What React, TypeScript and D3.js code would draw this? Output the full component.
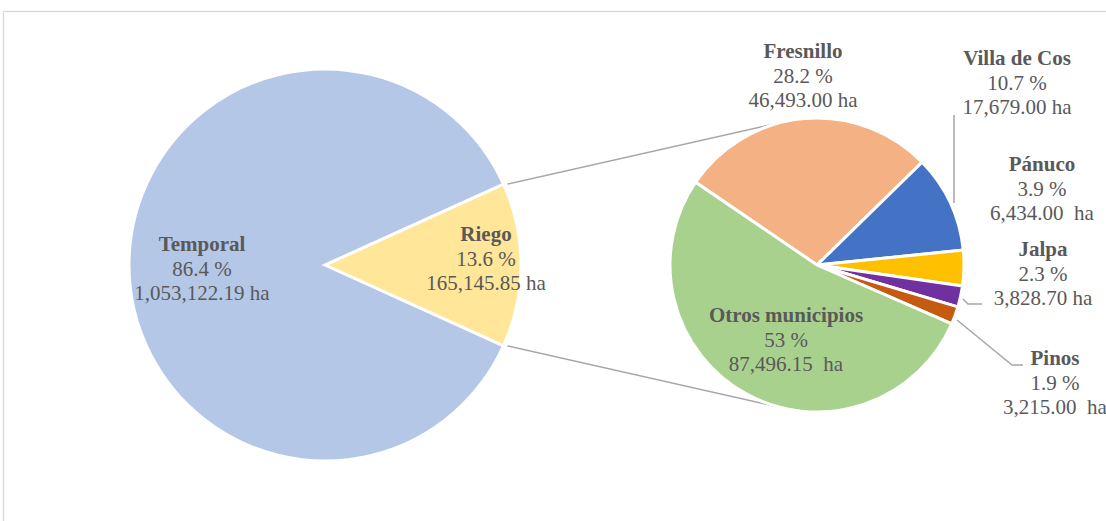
import React from "react";
import * as d3 from "d3";

// ---- Data ----
const mainCategories = ["Riego", "Temporal"];
const mainValues = [165145.85, 1053122.19];
const mainPctLabels = ["13.6 %", "86.4 %"];
const mainValueLabels = ["165,145.85 ha", "1,053,122.19 ha"];

const subCategories = ["Fresnillo", "Villa de Cos", "Pánuco", "Jalpa", "Pinos", "Otros municipios"];
const subValues = [46493.0, 17679.0, 6434.0, 3828.7, 3215.0, 87496.15];
const subPctLabels = ["28.2 %", "10.7 %", "3.9 %", "2.3 %", "1.9 %", "53 %"];
const subValueLabels = ["46,493.00 ha", "17,679.00 ha", "6,434.00  ha", "3,828.70 ha", "3,215.00  ha", "87,496.15  ha"];

// ---- Style / layout ----
const W = 1106;
const H = 521;
const mainColors = ["#ffe699", "#b4c7e7"];
const subColors = ["#f4b183", "#4472c4", "#ffc000", "#7030a0", "#c55a11", "#a9d18e"];
const textColor = "#595959";
const lineColor = "#a6a6a6";
const FONT = "'Liberation Serif', 'Times New Roman', serif";
const FS = 21;

const mainC = { x: 325, y: 265, r: 196 };
const subC = { x: 817, y: 265, r: 147 };

// label anchors (center x, baseline of first line)
const mainLabelPos: [number, number][] = [
  [486, 241],
  [202, 251],
];
const subLabelPos: [number, number][] = [
  [803, 58],
  [1017, 65],
  [1042, 171],
  [1043, 256],
  [1055, 365],
  [786, 322],
];
// leader lines for outside labels
const leaders: [number, number][][] = [
  [[954, 115], [954, 203]],
  [[963, 299], [968, 304], [982, 304]],
  [[957, 320], [1012, 365], [1023, 365]],
];

function tangentPoint(px: number, py: number, cx: number, cy: number, r: number, sign: number) {
  const vx = px - cx, vy = py - cy;
  const d = Math.hypot(vx, vy);
  const base = Math.atan2(vy, vx);
  const a = Math.acos(r / d);
  const t = base + sign * a;
  return [cx + r * Math.cos(t), cy + r * Math.sin(t)];
}

export default function App() {
  const deg = Math.PI / 180;
  const riegoSpan = (mainValues[0] / d3.sum(mainValues)) * 2 * Math.PI;
  const mainStart = Math.PI / 2 - riegoSpan / 2;
  const mainPie = d3
    .pie<number>()
    .sort(null)
    .value((d) => d)
    .startAngle(mainStart)
    .endAngle(mainStart + 2 * Math.PI);
  const mainArcs = mainPie(mainValues);
  const mainArc = d3.arc<d3.PieArcDatum<number>>().innerRadius(0).outerRadius(mainC.r);

  const subStart = -55.7 * deg;
  const subPie = d3
    .pie<number>()
    .sort(null)
    .value((d) => d)
    .startAngle(subStart)
    .endAngle(subStart + 2 * Math.PI);
  const subArcs = subPie(subValues);
  const subArc = d3.arc<d3.PieArcDatum<number>>().innerRadius(0).outerRadius(subC.r);

  // connector lines from Riego edges to tangent points of secondary pie
  const r0 = mainArcs[0];
  const p1 = [mainC.x + mainC.r * Math.sin(r0.startAngle), mainC.y - mainC.r * Math.cos(r0.startAngle)];
  const p2 = [mainC.x + mainC.r * Math.sin(r0.endAngle), mainC.y - mainC.r * Math.cos(r0.endAngle)];
  const t1 = tangentPoint(p1[0] + 4, p1[1], subC.x, subC.y, subC.r, 1);
  const t2 = tangentPoint(p2[0] + 4, p2[1], subC.x, subC.y, subC.r, -1);

  const line = d3.line<[number, number]>();

  const renderLabel = (x: number, y: number, title: string, pct: string, val: string, key: string) => (
    <text
      key={key}
      x={x}
      y={y}
      textAnchor="middle"
      fontFamily={FONT}
      fontSize={FS}
      fill={textColor}
      style={{ whiteSpace: "pre" }}
    >
      <tspan x={x} fontWeight="bold">{title}</tspan>
      <tspan x={x} dy={24.5}>{pct}</tspan>
      <tspan x={x} dy={24.5}>{val}</tspan>
    </text>
  );

  return (
    <div style={{ position: "absolute", left: 0, top: 0 }}>
      <svg width={W} height={H} style={{ display: "block" }}>
        <rect x={0} y={0} width={W} height={H} fill="#ffffff" />
        <rect x={3.5} y={11.5} width={W + 20} height={H + 20} fill="none" stroke="#d9d9d9" strokeWidth={1.3} />

        <line x1={p1[0] + 4} y1={p1[1]} x2={t1[0]} y2={t1[1]} stroke={lineColor} strokeWidth={1.5} />
        <line x1={p2[0] + 4} y1={p2[1]} x2={t2[0]} y2={t2[1]} stroke={lineColor} strokeWidth={1.5} />

        <g transform={`translate(${mainC.x},${mainC.y})`}>
          {mainArcs.map((a, i) => (
            <path key={i} d={mainArc(a) || ""} fill={mainColors[i]} stroke="#ffffff" strokeWidth={3} />
          ))}
        </g>
        <g transform={`translate(${subC.x},${subC.y})`}>
          {subArcs.map((a, i) => (
            <path key={i} d={subArc(a) || ""} fill={subColors[i]} stroke="#ffffff" strokeWidth={3} />
          ))}
        </g>

        {leaders.map((pts, i) => (
          <path key={i} d={line(pts as [number, number][]) || ""} fill="none" stroke={lineColor} strokeWidth={1.5} />
        ))}

        {mainCategories.map((c, i) =>
          renderLabel(mainLabelPos[i][0], mainLabelPos[i][1], c, mainPctLabels[i], mainValueLabels[i], "m" + i)
        )}
        {subCategories.map((c, i) =>
          renderLabel(subLabelPos[i][0], subLabelPos[i][1], c, subPctLabels[i], subValueLabels[i], "s" + i)
        )}
      </svg>
    </div>
  );
}
